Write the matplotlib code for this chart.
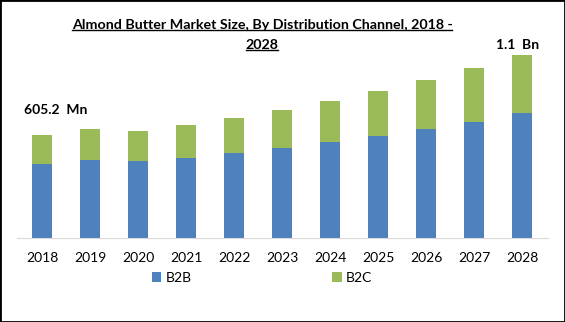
import matplotlib
matplotlib.use("Agg")
import matplotlib.pyplot as plt
from matplotlib.lines import Line2D
from matplotlib.patches import Rectangle

# Données (en millions USD)
years = ["2018", "2019", "2020", "2021", "2022", "2023", "2024", "2025", "2026", "2027", "2028"]
b2b = [434.8, 458.3, 452.5, 470.0, 499.5, 528.8, 564.1, 599.4, 640.5, 681.6, 734.5]
b2c = [170.4, 182.2, 176.3, 193.9, 205.7, 223.3, 240.9, 264.4, 287.9, 317.3, 340.8]
series_names = ["B2B", "B2C"]
first_label = "605.2  Mn"
last_label = "1.1  Bn"

BLUE = "#4F81BD"
GREEN = "#9BBB59"

plt.rcParams["font.family"] = ["Lato", "DejaVu Sans"]

fig = plt.figure(figsize=(5.65, 3.22), dpi=100)
ax = fig.add_axes([17 / 565, (322 - 238) / 322, (548 - 17) / 565, 198 / 322])

x = list(range(len(years)))
ax.bar(x, b2b, width=0.42, color=BLUE, label=series_names[0])
ax.bar(x, b2c, width=0.42, bottom=b2b, color=GREEN, label=series_names[1])

ax.set_xlim(-0.52, 10.54)
ax.set_ylim(0, 198 * 605.2 / 103)
ax.set_xticks(x)
ax.set_xticklabels(years, fontsize=10)
ax.tick_params(axis="x", length=0, pad=10)
ax.set_yticks([])
for side in ["top", "right", "left"]:
    ax.spines[side].set_visible(False)
ax.spines["bottom"].set_color("#D9D9D9")

# étiquettes des valeurs extrêmes
tot_first = b2b[0] + b2c[0]
tot_last = b2b[-1] + b2c[-1]
ax.annotate(first_label, (x[0], tot_first), xytext=(10, 14), textcoords="offset points",
            ha="center", va="bottom", fontsize=10, fontweight="bold")
ax.annotate(last_label, (x[-1], tot_last), xytext=(-3, 3), textcoords="offset points",
            ha="center", va="bottom", fontsize=10, fontweight="bold")

# titre souligné, sur deux lignes
t1 = fig.text(262 / 565, 1 - 25 / 322, "Almond Butter Market Size, By Distribution Channel, 2018 -",
              ha="center", va="center", fontsize=10.3, fontweight="bold")
t2 = fig.text(262 / 565, 1 - 45 / 322, "2028",
              ha="center", va="center", fontsize=10.3, fontweight="bold")

leg = fig.legend(loc="center", bbox_to_anchor=(262 / 565, 1 - 278 / 322), ncol=2, frameon=False,
                 fontsize=10, handlelength=0.7, handleheight=0.7, handletextpad=0.3,
                 columnspacing=10.1)

fig.canvas.draw()
inv = fig.transFigure.inverted()
for t in (t1, t2):
    bb = t.get_window_extent()
    (x0, y0), (x1, y1) = inv.transform([(bb.x0, bb.y0), (bb.x1, bb.y1)])
    yl = y0 + 1.5 / 322
    fig.add_artist(Line2D([x0, x1], [yl, yl], transform=fig.transFigure, color="black", lw=1))

fig.add_artist(Rectangle((0, 0), 1, 1, transform=fig.transFigure, fill=False,
                         edgecolor="black", lw=2))

plt.savefig("out.png", dpi=100)
